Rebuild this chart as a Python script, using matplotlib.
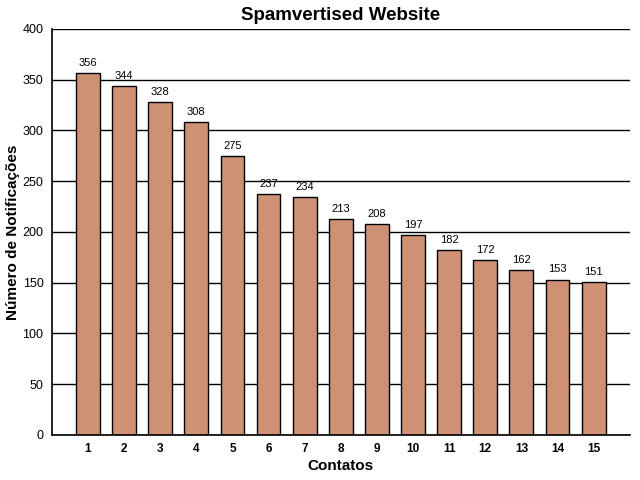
import matplotlib
matplotlib.use("Agg")
import matplotlib.pyplot as plt

plt.rcParams['font.family'] = ['Liberation Sans', 'DejaVu Sans']

# Data
contatos = list(range(1, 16))
notificacoes = [356, 344, 328, 308, 275, 237, 234, 213, 208, 197, 182, 172, 162, 153, 151]

bar_color = '#CF9174'

fig = plt.figure(figsize=(6.4, 4.8), dpi=100)
ax = fig.add_axes([0.081, 0.094, 0.903, 0.846])

ax.set_axisbelow(True)
ax.yaxis.grid(True, color='black', linewidth=1.0)
bars = ax.bar(contatos, notificacoes, width=0.66, color=bar_color,
              edgecolor='black', linewidth=1.0)

for x, v in zip(contatos, notificacoes):
    ax.text(x, v + 5, str(v), ha='center', va='bottom', fontsize=8)

ax.set_xlim(0, 16)
ax.set_ylim(0, 400)
ax.set_yticks(range(0, 401, 50))
ax.set_xticks(contatos)
ax.set_xticklabels([str(c) for c in contatos], fontweight='bold', fontsize=8.5)
ax.tick_params(axis='y', labelsize=9, length=0, pad=6)
ax.tick_params(axis='x', length=0, pad=6)

for side in ['top', 'right']:
    ax.spines[side].set_visible(False)
ax.spines['left'].set_linewidth(1.2)
ax.spines['bottom'].set_linewidth(1.2)

ax.set_title('Spamvertised Website', fontsize=13.5, fontweight='bold', pad=6)
ax.set_xlabel('Contatos', fontsize=11, fontweight='bold', labelpad=3)
ax.set_ylabel('Número de Notificações', fontsize=11, fontweight='bold', labelpad=2)

fig.savefig('out.png', dpi=100)
